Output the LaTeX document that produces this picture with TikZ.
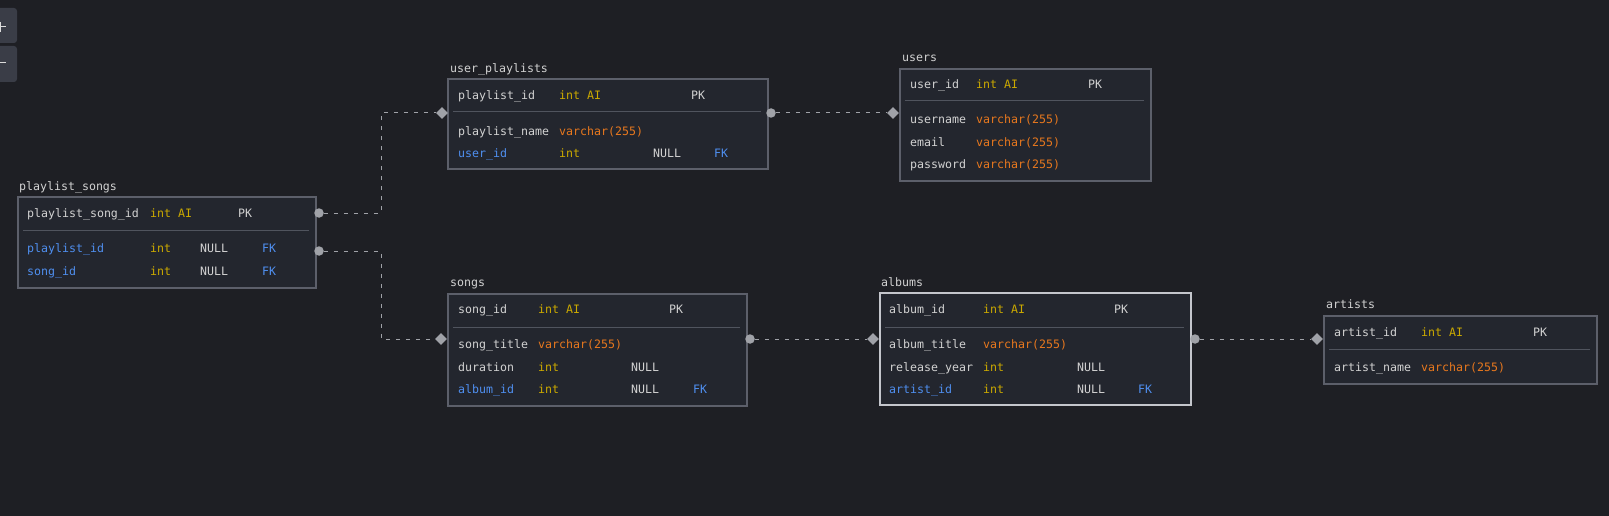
\documentclass[tikz,border=0pt]{standalone}
\usepackage{fontspec}
\setmainfont{DejaVu Sans Mono}
\usetikzlibrary{shapes.geometric}
\definecolor{bgc}{HTML}{1E1F24}
\definecolor{boxfill}{HTML}{23262E}
\definecolor{boxline}{HTML}{5C5F6A}
\definecolor{boxhi}{HTML}{C4C6CC}
\definecolor{sepc}{HTML}{50545E}
\definecolor{txtc}{HTML}{D2D2D2}
\definecolor{intc}{HTML}{CCAA00}
\definecolor{varc}{HTML}{E8781E}
\definecolor{fkc}{HTML}{4F8FF0}
\definecolor{conc}{HTML}{A0A2A8}
\definecolor{btnc}{HTML}{3A3D47}
\newcommand\cellx[5]{\node[cellst,text=#4] (#1) at (#2,#3) {#5};}
\begin{document}
\begin{tikzpicture}[x=1pt,y=-1pt,
  font=\fontsize{11.6}{14}\selectfont,
  cellst/.style={anchor=mid west,inner sep=0pt,yshift=-2pt},
  titlest/.style={anchor=mid west,inner sep=0pt,text=txtc,yshift=-2pt},
  tbl/.style={draw=boxline,line width=2pt,fill=boxfill,anchor=north west,inner sep=0pt},
  sepst/.style={draw=sepc,line width=1pt},
  dotst/.style={circle,fill=conc,minimum size=9.5pt,inner sep=0pt},
  diast/.style={diamond,fill=conc,minimum size=12pt,inner sep=0pt},
  conn/.style={draw=conc,line width=1pt,dash pattern=on 4pt off 6pt},
  btn/.style={fill=btnc,rounded corners=3pt}]
\fill[bgc] (0,0) rectangle (1609,516);
\useasboundingbox (0,0) rectangle (1609,516);
% zoom buttons
\fill[btn] (-5,8) rectangle (17,43);
\fill[btn] (-5,46) rectangle (17,82);
\draw[txtc!80,line width=1pt] (0,27) -- (6,27) (0.5,22) -- (0.5,32);
\draw[txtc!80,line width=1pt] (0,63) -- (6,63);
% ---------- playlist_songs
\node[tbl,minimum width=298pt,minimum height=91pt] (ps) at (17,196) {};
\node[titlest] (pst) at (19,186) {playlist\_songs};
\draw[sepst] (23,230) -- (309,230);
\cellx{ps11}{27}{213}{txtc}{playlist\_song\_id}
\cellx{ps12}{150}{213}{intc}{int AI}
\cellx{ps14}{238}{213}{txtc}{PK}
\cellx{ps21}{27}{248}{fkc}{playlist\_id}
\cellx{ps22}{150}{248}{intc}{int}
\cellx{ps23}{200}{248}{txtc}{NULL}
\cellx{ps24}{262}{248}{fkc}{FK}
\cellx{ps31}{27}{271}{fkc}{song\_id}
\cellx{ps32}{150}{271}{intc}{int}
\cellx{ps33}{200}{271}{txtc}{NULL}
\cellx{ps34}{262}{271}{fkc}{FK}
% ---------- user_playlists
\node[tbl,minimum width=320pt,minimum height=90pt] (up) at (447,78) {};
\node[titlest] (upt) at (450,68) {user\_playlists};
\draw[sepst] (453,112) -- (761,112);
\cellx{up11}{458}{95}{txtc}{playlist\_id}
\cellx{up12}{559}{95}{intc}{int AI}
\cellx{up14}{691}{95}{txtc}{PK}
\cellx{up21}{458}{131}{txtc}{playlist\_name}
\cellx{up22}{559}{131}{varc}{varchar(255)}
\cellx{up31}{458}{153}{fkc}{user\_id}
\cellx{up32}{559}{153}{intc}{int}
\cellx{up33}{653}{153}{txtc}{NULL}
\cellx{up34}{714}{153}{fkc}{FK}
% ---------- users
\node[tbl,minimum width=251pt,minimum height=112pt] (us) at (899,68) {};
\node[titlest] (ust) at (902,57) {users};
\draw[sepst] (905,101) -- (1144,101);
\cellx{us11}{910}{84}{txtc}{user\_id}
\cellx{us12}{976}{84}{intc}{int AI}
\cellx{us14}{1088}{84}{txtc}{PK}
\cellx{us21}{910}{119}{txtc}{username}
\cellx{us22}{976}{119}{varc}{varchar(255)}
\cellx{us31}{910}{142}{txtc}{email}
\cellx{us32}{976}{142}{varc}{varchar(255)}
\cellx{us41}{910}{164}{txtc}{password}
\cellx{us42}{976}{164}{varc}{varchar(255)}
% ---------- songs
\node[tbl,minimum width=299pt,minimum height=112pt] (so) at (447,293) {};
\node[titlest] (sot) at (450,282) {songs};
\draw[sepst] (453,327) -- (740,327);
\cellx{so11}{458}{309}{txtc}{song\_id}
\cellx{so12}{538}{309}{intc}{int AI}
\cellx{so14}{669}{309}{txtc}{PK}
\cellx{so21}{458}{344}{txtc}{song\_title}
\cellx{so22}{538}{344}{varc}{varchar(255)}
\cellx{so31}{458}{367}{txtc}{duration}
\cellx{so32}{538}{367}{intc}{int}
\cellx{so33}{631}{367}{txtc}{NULL}
\cellx{so41}{458}{389}{fkc}{album\_id}
\cellx{so42}{538}{389}{intc}{int}
\cellx{so43}{631}{389}{txtc}{NULL}
\cellx{so44}{693}{389}{fkc}{FK}
% ---------- albums
\node[tbl,draw=boxhi,minimum width=311pt,minimum height=112pt] (al) at (879,292) {};
\node[titlest] (alt) at (881,282) {albums};
\draw[sepst] (885,327) -- (1184,327);
\cellx{al11}{889}{309}{txtc}{album\_id}
\cellx{al12}{983}{309}{intc}{int AI}
\cellx{al14}{1114}{309}{txtc}{PK}
\cellx{al21}{889}{344}{txtc}{album\_title}
\cellx{al22}{983}{344}{varc}{varchar(255)}
\cellx{al31}{889}{367}{txtc}{release\_year}
\cellx{al32}{983}{367}{intc}{int}
\cellx{al33}{1077}{367}{txtc}{NULL}
\cellx{al41}{889}{389}{fkc}{artist\_id}
\cellx{al42}{983}{389}{intc}{int}
\cellx{al43}{1077}{389}{txtc}{NULL}
\cellx{al44}{1138}{389}{fkc}{FK}
% ---------- artists
\node[tbl,minimum width=273pt,minimum height=68pt] (ar) at (1323,315) {};
\node[titlest] (art) at (1326,304) {artists};
\draw[sepst] (1329,349) -- (1590,349);
\cellx{ar11}{1334}{332}{txtc}{artist\_id}
\cellx{ar12}{1421}{332}{intc}{int AI}
\cellx{ar14}{1533}{332}{txtc}{PK}
\cellx{ar21}{1334}{367}{txtc}{artist\_name}
\cellx{ar22}{1421}{367}{varc}{varchar(255)}
% ---------- connectors
\node[dotst] (d1) at (319,213) {};
\node[dotst] (d2) at (319,251) {};
\node[diast] (m1) at (442,113) {};
\node[diast] (m2) at (441,339) {};
\node[dotst] (d3) at (771,113) {};
\node[diast] (m3) at (893,113) {};
\node[dotst] (d4) at (750,339) {};
\node[diast] (m4) at (873,339) {};
\node[dotst] (d5) at (1195,339) {};
\node[diast] (m5) at (1317,339) {};
\coordinate (b1) at (381,213);
\coordinate (b2) at (381,113);
\coordinate (b3) at (381,251);
\coordinate (b4) at (381,339);
\draw[conn] (d1) -- (b1) -- (b2) -- (m1);
\draw[conn] (d2) -- (b3) -- (b4) -- (m2);
\draw[conn] (d3) -- (m3);
\draw[conn] (d4) -- (m4);
\draw[conn] (d5) -- (m5);
\end{tikzpicture}
\end{document}
